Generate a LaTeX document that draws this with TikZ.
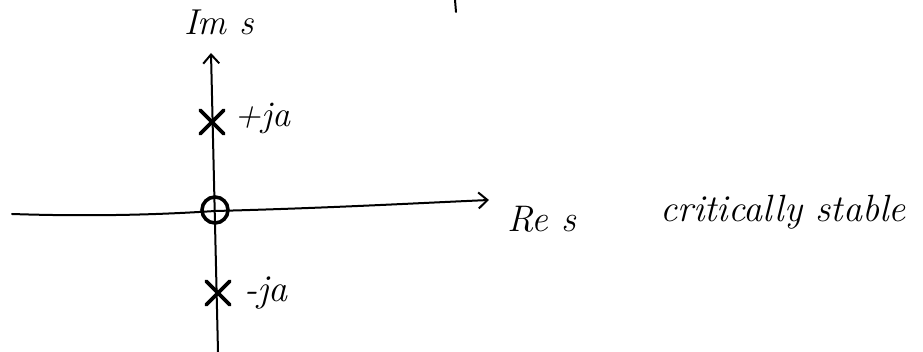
\documentclass[tikz,border=0pt]{standalone}
\usetikzlibrary{arrows.meta,shapes.misc}
\begin{document}
\begin{tikzpicture}[x=1pt,y=-1pt,
  axis/.style={line width=2pt,line cap=round,line join=round,-{Straight Barb[length=9pt,width=16pt,line width=2pt]}},
  pole/.style={cross out,draw,line width=3.6pt,line cap=round,minimum size=20pt,inner sep=0pt},
  zero/.style={circle,draw,line width=3.6pt,minimum width=26pt,minimum height=25pt,inner sep=0pt},
  lbl/.style={font=\fontsize{36}{40}\selectfont\itshape,inner sep=0pt,anchor=base west}]
\useasboundingbox (0,0) rectangle (923,352);
\coordinate (xl) at (12,214);
\coordinate (xr) at (489,200);
\coordinate (yb) at (218,352);
\coordinate (yt) at (211,53);
\draw[axis] (yb) -- (yt);
\draw[axis] (xl) .. controls (100,217) and (170,214) .. (215,211) .. controls (330,208) and (420,203) .. (xr);
\node[zero] (o) at (215,210) {};
\node[pole] (p1) at (212,122) {};
\node[pole] (p2) at (218,293) {};
\node[lbl] (l1) at (234,127) {+ja};
\node[lbl,font=\fontsize{38}{42}\selectfont\itshape] (l2) at (244,302) {-ja};
\node[lbl] (im) at (184,35) {Im s};
\node[lbl,font=\fontsize{37}{40}\selectfont\itshape] (re) at (507,232) {Re s};
\node[lbl,font=\fontsize{38}{42}\selectfont\itshape] (cs) at (660,222) {critically stable};
\coordinate (a1) at (455,0);
\coordinate (a2) at (456,12);
\draw[line width=2pt,line cap=round] (a1) -- (a2);
\end{tikzpicture}
\end{document}
